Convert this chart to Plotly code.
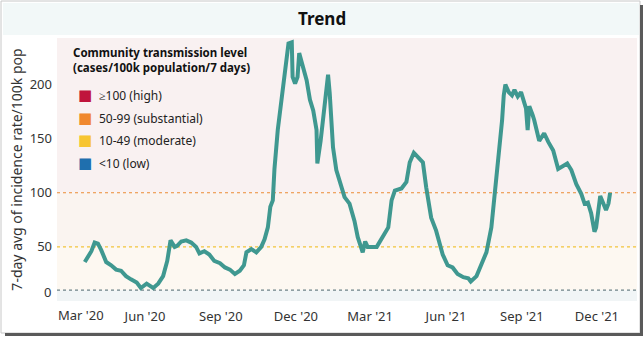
import plotly.graph_objects as go

# ---------------- data ----------------
dates = [
    "2020-03-20", "2020-03-28", "2020-04-01", "2020-04-05", "2020-04-09", "2020-04-15", "2020-04-21",
    "2020-04-27", "2020-05-03", "2020-05-09", "2020-05-15", "2020-05-22", "2020-05-27", "2020-06-03",
    "2020-06-11", "2020-06-17", "2020-06-23", "2020-06-28", "2020-07-02", "2020-07-07", "2020-07-10",
    "2020-07-15", "2020-07-21", "2020-07-27", "2020-08-02", "2020-08-06", "2020-08-12", "2020-08-18",
    "2020-08-24", "2020-08-31", "2020-09-06", "2020-09-12", "2020-09-18", "2020-09-24", "2020-09-29",
    "2020-10-02", "2020-10-08", "2020-10-14", "2020-10-20", "2020-10-24", "2020-10-28", "2020-10-31",
    "2020-11-03", "2020-11-05", "2020-11-09", "2020-11-15", "2020-11-19", "2020-11-22", "2020-11-26",
    "2020-11-27", "2020-11-30", "2020-12-03", "2020-12-05", "2020-12-10", "2020-12-14", "2020-12-18",
    "2020-12-22", "2020-12-26", "2020-12-27", "2020-12-31", "2021-01-04", "2021-01-09", "2021-01-11",
    "2021-01-15", "2021-01-19", "2021-01-23", "2021-01-29", "2021-02-04", "2021-02-10", "2021-02-14",
    "2021-02-18", "2021-02-20", "2021-02-23", "2021-02-26", "2021-03-09", "2021-03-15", "2021-03-23",
    "2021-03-27", "2021-03-31", "2021-04-08", "2021-04-14", "2021-04-18", "2021-04-23", "2021-04-28",
    "2021-05-04", "2021-05-08", "2021-05-14", "2021-05-20", "2021-05-24", "2021-05-28", "2021-06-03",
    "2021-06-09", "2021-06-15", "2021-06-22", "2021-06-28", "2021-07-01", "2021-07-08", "2021-07-14",
    "2021-07-20", "2021-07-26", "2021-08-01", "2021-08-05", "2021-08-08", "2021-08-10", "2021-08-12",
    "2021-08-16", "2021-08-20", "2021-08-23", "2021-08-27", "2021-08-31", "2021-09-03", "2021-09-06",
    "2021-09-08", "2021-09-10", "2021-09-14", "2021-09-16", "2021-09-22", "2021-09-28", "2021-10-03",
    "2021-10-09", "2021-10-15", "2021-10-21", "2021-10-26", "2021-10-31", "2021-11-06", "2021-11-12",
    "2021-11-16", "2021-11-20", "2021-11-24", "2021-11-28", "2021-11-30", "2021-12-05", "2021-12-08",
    "2021-12-12", "2021-12-15", "2021-12-17",
]
rates = [
    36, 46, 54, 53, 47, 36, 33,
    29, 28, 23, 20, 17, 12, 16,
    12, 16, 23, 37, 56, 50, 51,
    55, 56, 54, 50, 44, 46, 43,
    37, 35, 31, 29, 25, 28, 33,
    45, 48, 45, 50, 57, 68, 87,
    93, 122, 158, 198, 226, 238, 239,
    207, 201, 207, 229, 216, 204, 186,
    176, 158, 127, 148, 176, 209, 192,
    142, 121, 111, 96, 90, 74, 59,
    50, 45, 55, 50, 50, 57, 68,
    93, 102, 104, 110, 128, 137, 133,
    128, 105, 77, 65, 53, 43, 33,
    31, 25, 22, 21, 18, 23, 34,
    45, 68, 113, 148, 167, 190, 200,
    193, 190, 195, 189, 193, 184, 178,
    158, 180, 172, 167, 148, 155, 147,
    139, 122, 125, 127, 121, 108, 99,
    90, 91, 81, 64, 68, 97, 91,
    84, 90, 100,
]

level_labels = ["≥100 (high)", "50-99 (substantial)", "10-49 (moderate)", "<10 (low)"]
level_colors = ["#c0143c", "#f0882e", "#f7c531", "#1f6fae"]
thresholds = [100, 50, 10]
threshold_colors = ["#ec8a34", "#f2c43c", "#6d8288"]
band_bounds = [(100, 260), (50, 100), (10, 50), (0, 10)]
band_colors = ["#f9f1f1", "#faf4f0", "#fdf8f1", "#f1f5f6"]

y_ticks = [0, 50, 100, 150, 200]
x_tick_dates = ["2020-03-01", "2020-06-01", "2020-09-01", "2020-12-01",
                "2021-03-01", "2021-06-01", "2021-09-01", "2021-12-01"]
x_tick_labels = ["Mar '20", "Jun '20", "Sep '20", "Dec '20",
                 "Mar '21", "Jun '21", "Sep '21", "Dec '21"]

# ---------------- layout helpers ----------------
W, H = 644, 338
PL, PR, PT, PB = 57, 637, 38, 301  # plot area in pixels


def xp(px):
    return (px - PL) / (PR - PL)


def yp(py):
    return (PB - py) / (PB - PT)


FONT = "Noto Sans"
TEXT = "#333333"

fig = go.Figure()
fig.add_trace(go.Scatter(
    x=dates, y=rates, mode="lines",
    line=dict(color="#3f9890", width=4),
    showlegend=False, hoverinfo="x+y",
))

shapes = []
# outer frame & shadow
shapes.append(dict(type="rect", xref="paper", yref="paper", x0=xp(1), x1=xp(640), y0=yp(1), y1=yp(333),
                   line=dict(color="#c8c8c8", width=1), fillcolor="rgba(0,0,0,0)", layer="below"))
shapes.append(dict(type="rect", xref="paper", yref="paper", x0=xp(640), x1=xp(643), y0=yp(5), y1=yp(336),
                   line=dict(width=0), fillcolor="#5a5a5a", layer="below"))
shapes.append(dict(type="rect", xref="paper", yref="paper", x0=xp(5), x1=xp(643), y0=yp(333), y1=yp(336),
                   line=dict(width=0), fillcolor="#5a5a5a", layer="below"))
# title bar
shapes.append(dict(type="rect", xref="paper", yref="paper", x0=xp(3), x1=xp(639), y0=yp(3), y1=yp(35),
                   line=dict(width=0), fillcolor="#f2f8f8", layer="below"))
# background bands
for (lo, hi), c in zip(band_bounds, band_colors):
    shapes.append(dict(type="rect", xref="paper", yref="y", x0=0, x1=1, y0=lo, y1=hi,
                       line=dict(width=0), fillcolor=c, layer="below"))
# threshold lines
for t, c in zip(thresholds, threshold_colors):
    shapes.append(dict(type="line", xref="paper", yref="y", x0=0, x1=1, y0=t, y1=t,
                       line=dict(color=c, width=1.2, dash="dot"), layer="below"))

annotations = []
annotations.append(dict(text="<b>Trend</b>", x=xp(322), y=yp(19), xref="paper", yref="paper",
                        showarrow=False, xanchor="center", yanchor="middle",
                        font=dict(family=FONT, size=17, color="#111111")))
annotations.append(dict(text="<b>Community transmission level<br>(cases/100k population/7 days)</b>",
                        x=xp(71), y=yp(43), xref="paper", yref="paper", showarrow=False,
                        xanchor="left", yanchor="top", align="left",
                        font=dict(family=FONT, size=11.5, color="#111111")))
item_y = [95, 118, 140, 163]
for lab, col, py in zip(level_labels, level_colors, item_y):
    annotations.append(dict(text=f"<span style='color:{col}'>■</span>", x=xp(76), y=yp(py),
                            xref="paper", yref="paper", showarrow=False, xanchor="left", yanchor="middle",
                            font=dict(family="DejaVu Sans", size=15, color=col)))
    annotations.append(dict(text=lab, x=xp(97), y=yp(py), xref="paper", yref="paper", showarrow=False,
                            xanchor="left", yanchor="middle",
                            font=dict(family=FONT, size=12, color="#222222")))

# first tick labels of each axis are nudged inward (as in the reference) to avoid clipping
annotations.append(dict(text=str(y_ticks[0]), x=0, y=y_ticks[0], xref="paper", yref="y",
                        showarrow=False, xanchor="right", yanchor="middle", xshift=-4, yshift=9,
                        font=dict(family=FONT, size=13, color=TEXT)))
annotations.append(dict(text=x_tick_labels[0], x=x_tick_dates[0], y=0, xref="x", yref="paper",
                        showarrow=False, xanchor="center", yanchor="top", xshift=12, yshift=-3,
                        font=dict(family=FONT, size=13, color=TEXT)))

fig.update_layout(
    width=W, height=H,
    margin=dict(l=PL, r=W - PR, t=PT, b=H - PB),
    paper_bgcolor="white", plot_bgcolor="rgba(0,0,0,0)",
    shapes=shapes, annotations=annotations,
    font=dict(family=FONT, size=12.5, color=TEXT),
    xaxis=dict(
        type="date", range=["2020-02-15 08:00", "2022-01-18 14:00"],
        tickvals=x_tick_dates[1:], ticktext=x_tick_labels[1:],
        showgrid=False, zeroline=False, showline=False, ticks="",
        tickfont=dict(family=FONT, size=13, color=TEXT), ticklabelstandoff=6,
    ),
    yaxis=dict(
        range=[0, 243], tickvals=y_ticks[1:], showgrid=False, zeroline=False, showline=False, ticks="",
        tickfont=dict(family=FONT, size=13, color=TEXT), ticklabelstandoff=4,
        title=dict(text="7-day avg of incidence rate/100k pop", standoff=3,
                   font=dict(family=FONT, size=14, color=TEXT)),
    ),
    showlegend=False,
)

fig.write_html("out.html")
